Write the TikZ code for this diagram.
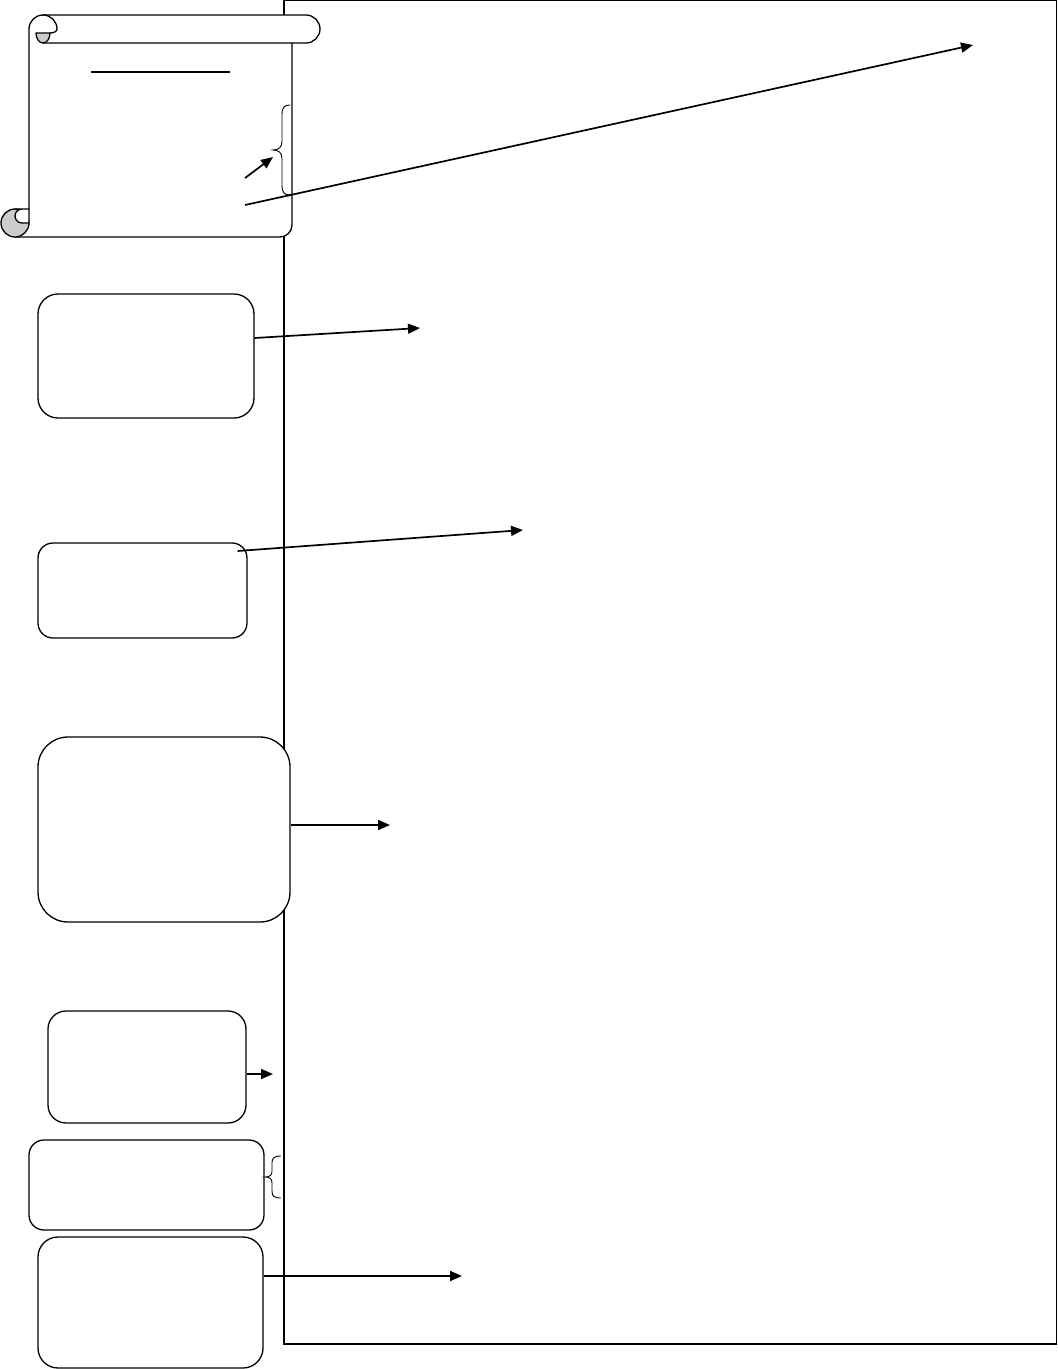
\documentclass[tikz,border=0pt]{standalone}
\usetikzlibrary{arrows.meta}
\begin{document}
\begin{tikzpicture}[x=1pt,y=-1pt,
  box/.style={draw=black, line width=1.3pt, fill=white, inner sep=0pt},
  conn/.style={line width=1.7pt, -{Triangle[length=12pt,width=10pt]}},
  scrl/.style={line width=1.3pt, line join=round, line cap=round},
  bracel/.style={line width=0.9pt}]
\useasboundingbox (0,0) rectangle (1058,1369);
\fill[white] (0,0) rectangle (1058,1369);
% page frame
\node[draw, line width=1.2pt, minimum width=772.5pt, minimum height=1343.5pt, inner sep=0pt] (page) at (670.25,672.25) {};

% scroll
\fill[white] (29,29) rectangle (292,237);
\fill[white] (43,15) -- (306,15) arc[start angle=-90,end angle=90,radius=14] -- (43,43) -- cycle;
\fill[white] (43,29) circle (14);
\fill[white] (280,225) circle (12);
% top roll
\draw[scrl] (43,15) -- (306,15) arc[start angle=-90,end angle=90,radius=14] -- (43,43);
% top-left curl
\filldraw[scrl, fill=gray!40] (50,33) arc[start angle=0,end angle=180,x radius=7,y radius=10] -- cycle;
\draw[scrl] (29,209) -- (29,29) arc[start angle=180,end angle=360,radius=14]
  arc[start angle=0,end angle=90,x radius=7,y radius=4];
% right side and bottom
\draw[scrl] (292,43) -- (292,225) arc[start angle=0,end angle=90,radius=12] -- (15,237);
% bottom-left curl
\filldraw[scrl, fill=gray!40] (15,223) circle (14);
\filldraw[scrl, fill=white] (15,209) -- (29,209) -- (29,223) -- (22,223)
  arc[start angle=90,end angle=270,radius=7] -- cycle;
% title underline
\draw[line width=1.2pt] (91,72) -- (230,72);
% brace in scroll
\draw[bracel] (290,105) .. controls (284,105) and (282,108) .. (282,114) -- (282,141)
  .. controls (282,147) and (279,150) .. (273,150)
  .. controls (279,150) and (282,153) .. (282,159) -- (282,186)
  .. controls (282,192) and (284,195) .. (290,195);
\coordinate (s1) at (245,178);
\coordinate (t1) at (273,157);
\coordinate (s2) at (245,205);
\coordinate (t2) at (973,45);
\draw[conn] (s1) -- (t1);
\draw[conn] (s2) -- (t2);

% boxes
\node[box, rounded corners=20pt, minimum width=216pt, minimum height=124pt] (b1) at (146,356) {};
\node[box, rounded corners=15pt, minimum width=209pt, minimum height=95pt] (b2) at (142.5,590.5) {};
\node[box, rounded corners=30pt, minimum width=252pt, minimum height=185pt] (b3) at (164,829.5) {};
\node[box, rounded corners=18pt, minimum width=198pt, minimum height=112pt] (b4) at (147,1067) {};
\node[box, rounded corners=15pt, minimum width=235pt, minimum height=90pt] (b5) at (146.5,1185) {};
\node[box, rounded corners=20pt, minimum width=225pt, minimum height=131pt] (b6) at (150.5,1302.5) {};

\coordinate (e1) at (420,328);
\coordinate (e2) at (523,530);
\coordinate (e3) at (390,825);
\coordinate (e4) at (273,1074);
\coordinate (e6) at (462,1276);
\draw[conn] ([yshift=18pt]b1.east) -- (e1);
\draw[conn] ([xshift=-10pt,yshift=39.5pt]b2.east) -- (e2);
\draw[conn] ([yshift=4.5pt]b3.east) -- (e3);
\draw[conn] ([yshift=-7pt]b4.east) -- (e4);
\draw[conn] ([yshift=26.5pt]b6.east) -- (e6);

% brace beside box 5
\draw[bracel] (281,1156) .. controls (274,1156) and (272,1158) .. (272,1163) -- (272,1171)
  .. controls (272,1175) and (270,1177) .. (265,1177)
  .. controls (270,1177) and (272,1179) .. (272,1183) -- (272,1191)
  .. controls (272,1196) and (274,1198) .. (281,1198);
\end{tikzpicture}
\end{document}
